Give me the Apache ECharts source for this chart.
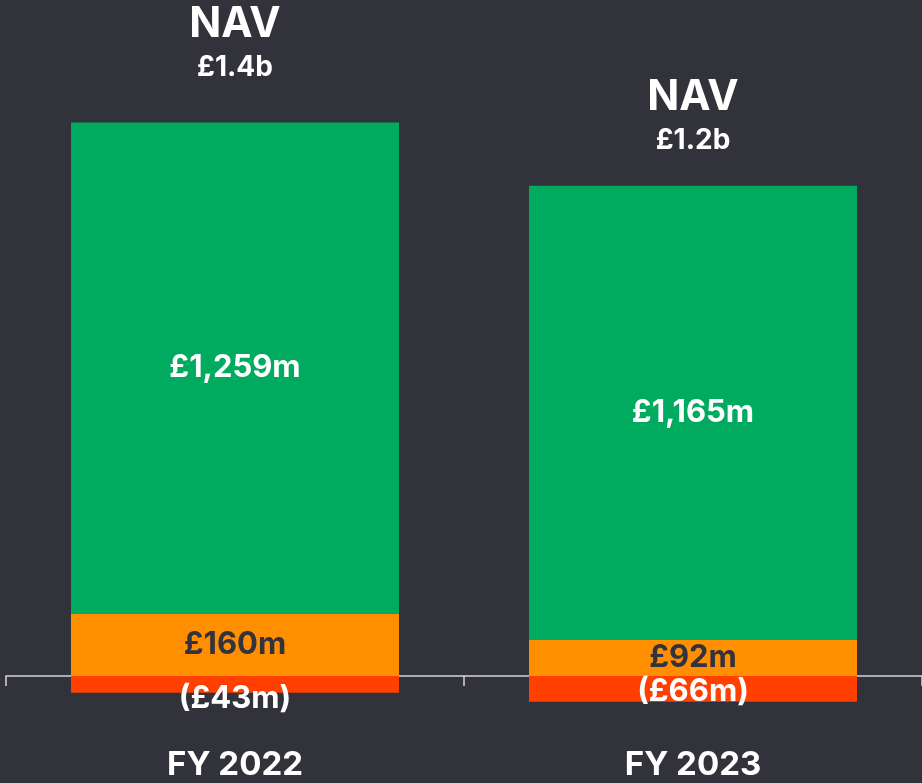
<!DOCTYPE html>
<html>
<head>
<meta charset="utf-8">
<script src="https://cdn.jsdelivr.net/npm/echarts@6/dist/echarts.min.js"></script>
<style>
html,body{margin:0;padding:0;background:#32323b;}
#chart{width:922px;height:783px;}
</style>
</head>
<body>
<div id="chart"></div>
<script>
// ---- data ----
const categories = ['FY 2022', 'FY 2023'];
const greenValues = [1259, 1165];
const orangeValues = [160, 92];
const redValues = [-43, -66];
const greenLabels = ['£1,259m', '£1,165m'];
const orangeLabels = ['£160m', '£92m'];
const redLabels = ['(£43m)', '(£66m)'];
const navLabels = ['£1.4b', '£1.2b'];

// ---- styles ----
const FONT = 'Inter, "Noto Sans", sans-serif';
const redLabelOffsets = [[0, 14], [0, 3]];
const navLabelOffsets = [[0, 0], [0, 10]];

const chart = echarts.init(document.getElementById('chart'));
chart.setOption({
  backgroundColor: '#32323b',
  animation: false,
  grid: { left: 6, right: 0, top: 13, height: 741, containLabel: false, outerBoundsMode: 'none' },
  xAxis: [
    {
      type: 'category',
      data: categories,
      axisLine: { onZero: true, lineStyle: { color: '#d6d6d6', width: 1.5 } },
      axisTick: { show: true, length: 10, lineStyle: { color: '#d6d6d6', width: 1.5 } },
      axisLabel: { show: false }
    },
    {
      type: 'category',
      data: categories,
      position: 'bottom',
      axisLine: { show: false, onZero: false },
      axisTick: { show: false },
      axisLabel: { color: '#ffffff', fontSize: 33, fontWeight: 'bold', fontFamily: FONT, margin: -5, lineHeight: 33 }
    }
  ],
  yAxis: {
    type: 'value', min: -200, max: 1700,
    show: false, splitLine: { show: false }
  },
  series: [
    {
      type: 'bar', stack: 'nav', barWidth: 328,
      data: orangeValues,
      itemStyle: { color: '#ff8f00' },
      label: { show: true, position: 'inside', color: '#33333d', fontSize: 31, fontWeight: 'bold', fontFamily: FONT,
        formatter: p => orangeLabels[p.dataIndex] }
    },
    {
      type: 'bar', stack: 'nav', barWidth: 328,
      data: greenValues,
      itemStyle: { color: '#00aa5f' },
      label: { show: true, position: 'inside', color: '#ffffff', fontSize: 31, fontWeight: 'bold', fontFamily: FONT,
        formatter: p => greenLabels[p.dataIndex] }
    },
    {
      type: 'bar', stack: 'nav', barWidth: 328,
      data: redValues.map((v, i) => ({ value: v, label: { offset: redLabelOffsets[i] } })),
      itemStyle: { color: '#ff4000' },
      label: { show: true, position: 'inside', color: '#ffffff', fontSize: 31, fontWeight: 'bold', fontFamily: FONT,
        formatter: p => redLabels[p.dataIndex] }
    },
    {
      type: 'scatter',
      symbolSize: 0,
      itemStyle: { opacity: 1 },
      data: greenValues.map((v, i) => ({ value: v + orangeValues[i], label: { offset: navLabelOffsets[i] } })),
      label: {
        show: true, position: 'top', distance: 37, color: '#ffffff', opacity: 1,
        formatter: p => '{a|NAV}\n{b|' + navLabels[p.dataIndex] + '}',
        rich: {
          a: { color: '#ffffff', fontSize: 42, fontWeight: 'bold', fontFamily: FONT, lineHeight: 50, align: 'center' },
          b: { color: '#ffffff', fontSize: 28, fontWeight: 'bold', fontFamily: FONT, lineHeight: 36, align: 'center' }
        }
      }
    }
  ]
});
</script>
</body>
</html>
